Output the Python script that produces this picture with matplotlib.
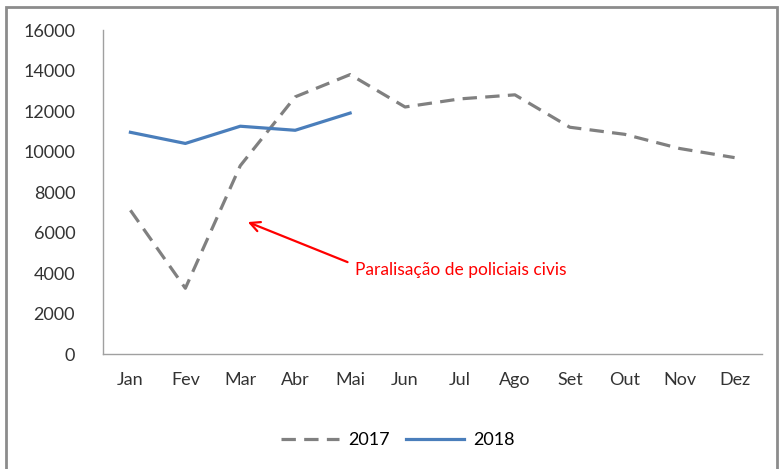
import matplotlib.pyplot as plt
from matplotlib.patches import Rectangle

plt.rcParams['font.family'] = ['Lato', 'DejaVu Sans']

meses = ["Jan", "Fev", "Mar", "Abr", "Mai", "Jun", "Jul", "Ago", "Set", "Out", "Nov", "Dez"]
v2017 = [7100, 3250, 9300, 12700, 13800, 12200, 12600, 12800, 11200, 10850, 10150, 9700]
v2018 = [10950, 10400, 11250, 11050, 11900]
yticks = [0, 2000, 4000, 6000, 8000, 10000, 12000, 14000, 16000]

fig = plt.figure(figsize=(7.8, 4.69), dpi=100)
ax = fig.add_axes([0.132, 0.245, 0.845, 0.691])

x17 = list(range(len(v2017)))
x18 = list(range(len(v2018)))
ax.plot(x17, v2017, color="#808080", lw=2.3, dashes=(4.5, 2.6), label="2017")
ax.plot(x18, v2018, color="#4A7EBB", lw=2.3, label="2018")

ax.set_xlim(-0.5, 11.5)
ax.set_ylim(0, 16000)
ax.set_xticks(x17)
ax.set_xticklabels(meses)
ax.set_yticks(yticks)
ax.tick_params(length=0, labelsize=13, colors="#333333", pad=13)
ax.tick_params(axis="y", pad=20)
for s in ["top", "right"]:
    ax.spines[s].set_visible(False)
for s in ["left", "bottom"]:
    ax.spines[s].set_color("#a0a0a0")
    ax.spines[s].set_linewidth(1)

# anotacao
ax.annotate("", xy=(2.09, 6570), xytext=(4.0, 4490),
            arrowprops=dict(arrowstyle="->,head_length=0.7,head_width=0.35", color="red", lw=1.6))
ax.text(4.09, 4150, "Paralisação de policiais civis", color="red", fontsize=12.5, va="center", ha="left")

fig.legend(loc="center", bbox_to_anchor=(0.51, 0.062), ncol=2, frameon=False,
           fontsize=13, handlelength=3.2, columnspacing=0.9, handletextpad=0.5)

fig.patches.append(Rectangle((0.0077, -0.05), 0.989, 1.035, transform=fig.transFigure,
                             fill=False, edgecolor="#8c8c8c", lw=2))

fig.savefig("out.png", dpi=100)
